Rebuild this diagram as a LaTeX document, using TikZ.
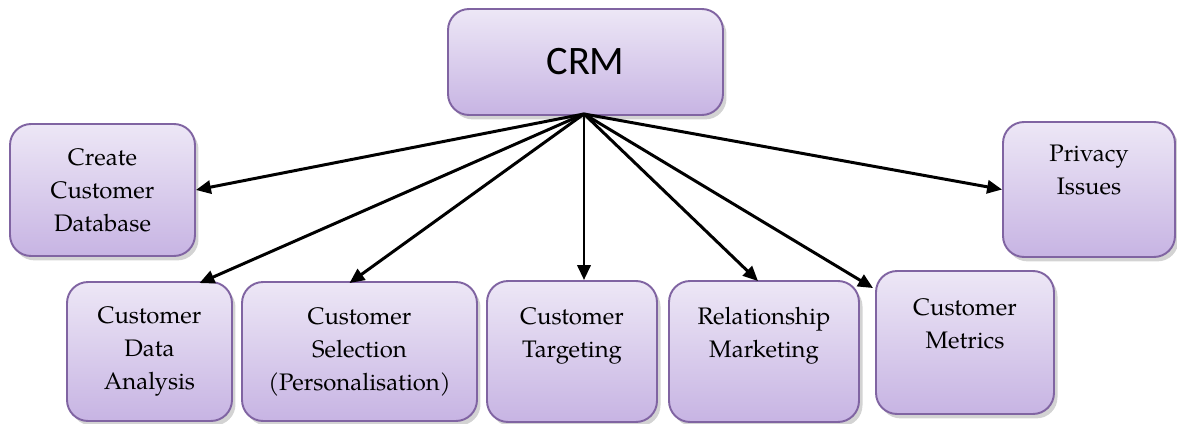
\documentclass[tikz,border=0pt]{standalone}
\usepackage{fontspec}
\newfontfamily\crmfont{Carlito}
\newfontfamily\boxfont{TeX Gyre Pagella}
\usepackage{xcolor}
\definecolor{boxline}{HTML}{8064A2}
\definecolor{boxtop}{HTML}{EDE7F6}
\definecolor{boxbottom}{HTML}{C7B4E3}
\usetikzlibrary{arrows.meta, calc, shadows}
\tikzset{
  box/.style={draw=boxline, line width=1.1pt, rounded corners=0.42cm,
    top color=boxtop, bottom color=boxbottom, align=center,
    drop shadow={shadow xshift=2pt, shadow yshift=-2.5pt, opacity=0.35},
    font=\boxfont\fontsize{13.6}{18.8}\selectfont},
  raised/.style={text depth=22pt},
  link/.style={line width=1.7pt, -{Triangle[length=8.5pt, width=7.5pt]}}
}
\begin{document}
\begin{tikzpicture}
    [x=0.02cm, y=-0.02cm]
    \useasboundingbox (0,0) rectangle (1177,423);
    \node[box, minimum width=5.5cm, minimum height=2.12cm,
          font=\crmfont\fontsize{23}{27}\selectfont] (crm) at (585.5,62) {CRM};
    \node[box, minimum width=3.7cm, minimum height=2.64cm] (create) at (102.5,190)
        {Create\\Customer\\Database};
    \node[box, minimum width=3.44cm, minimum height=2.7cm, raised] (privacy) at (1089,189.5)
        {Privacy\\Issues};
    \node[box, minimum width=3.3cm, minimum height=2.78cm] (analysis) at (149.5,351.5)
        {Customer\\Data\\Analysis};
    \node[box, minimum width=4.7cm, minimum height=2.78cm] (selection) at (359.5,351.5)
        {Customer\\Selection\\(Personalisation)};
    \node[box, minimum width=3.4cm, minimum height=2.82cm, raised] (targeting) at (572,351.5)
        {Customer\\Targeting};
    \node[box, minimum width=3.8cm, minimum height=2.82cm, raised] (relationship) at (764,351.5)
        {Relationship\\Marketing};
    \node[box, minimum width=3.56cm, minimum height=2.86cm, raised] (metrics) at (965,342.5)
        {Customer\\Metrics};
    % arrows
    \coordinate (apex) at ($(crm.south)+(-1.5,-2)$);
    \draw[link] (apex) -- (create.east);
    \draw[link] (apex) -- ($(analysis.north)+(50,2)$);
    \draw[link] (apex) -- ($(selection.north)+(-10,2)$);
    \draw[link] (apex) -- (apex |- targeting.north);
    \draw[link] (apex) -- ($(relationship.north)+(-6,1)$);
    \draw[link] (apex) -- ($(metrics.north west)+(-2,18)$);
    \draw[link] (apex) -- (privacy.west);
\end{tikzpicture}
\end{document}
